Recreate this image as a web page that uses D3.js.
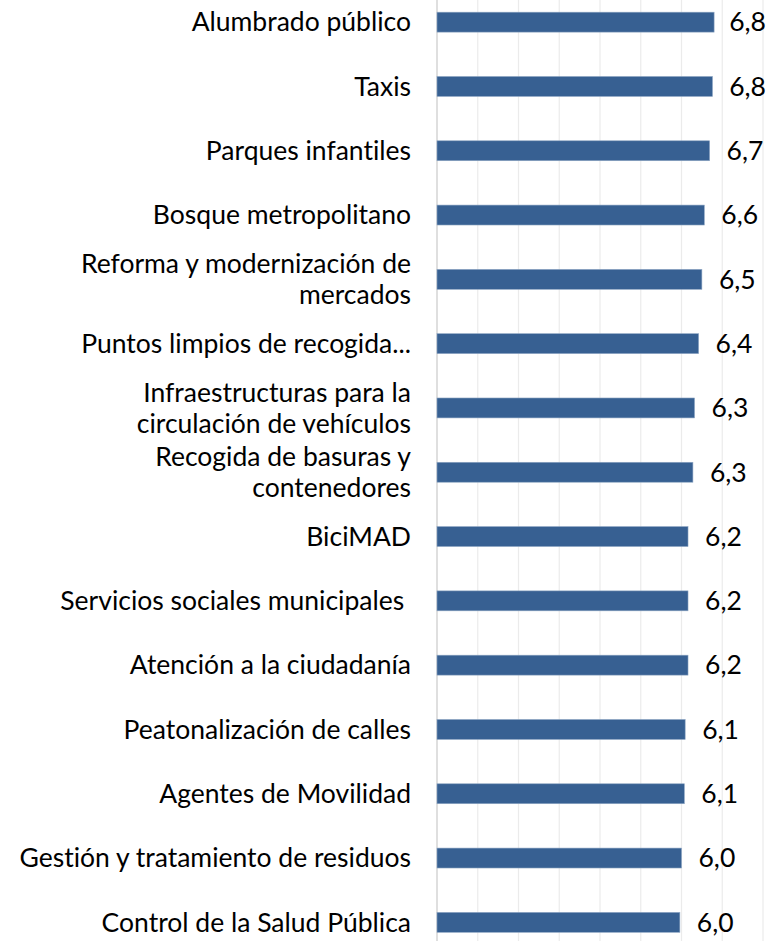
<!DOCTYPE html>
<html>
<head>
<meta charset="utf-8">
<script src="https://cdn.jsdelivr.net/npm/d3@7"></script>
<style>
  body { margin: 0; background: white; }
  text { font-family: Lato, "Open Sans", sans-serif; font-variant-ligatures: none; }
</style>
</head>
<body>
<script>
// data
const categories = [
    'Alumbrado público',
    'Taxis',
    'Parques infantiles',
    'Bosque metropolitano',
    'Reforma y modernización de\nmercados',
    'Puntos limpios de recogida...',
    'Infraestructuras para la\ncirculación de vehículos',
    'Recogida de basuras y\ncontenedores',
    'BiciMAD',
    'Servicios sociales municipales ',
    'Atención a la ciudadanía',
    'Peatonalización de calles',
    'Agentes de Movilidad',
    'Gestión y tratamiento de residuos',
    'Control de la Salud Pública'
]
const values = [6.80, 6.76, 6.69, 6.56, 6.50, 6.42, 6.32, 6.28, 6.16, 6.16, 6.16, 6.09, 6.07, 6.00, 5.96]
const xTicks = [0, 1, 2, 3, 4, 5, 6, 7, 8]

const width = 770
const height = 941
const chart = {left: 437, right: 763, top: -10, bottom: 954.5}
const fontSize = 26.5

const data = categories.map((c, i) => ({cat: c, value: values[i]}))

const svg = d3.select('body')
    .append('svg')
    .attr('width', width)
    .attr('height', height)

const x = d3.scaleLinear()
    .domain([0, 8])
    .range([chart.left, chart.right])

const y = d3.scaleBand()
    .domain(categories)
    .range([chart.top, chart.bottom])
    .paddingInner(0.69)
    .paddingOuter(0.345)

// vertical gridlines
svg.append('g')
    .selectAll('line')
    .data(xTicks)
    .join('line')
    .attr('x1', d => x(d))
    .attr('x2', d => x(d))
    .attr('y1', 0)
    .attr('y2', height)
    .attr('stroke', d => d === 0 ? '#d4d4d4' : '#ebebeb')
    .attr('stroke-width', d => d === 0 ? 1.5 : 1.2)

// bars
svg.append('g')
    .selectAll('rect')
    .data(data)
    .join('rect')
    .attr('x', x(0))
    .attr('y', d => y(d.cat))
    .attr('width', d => x(d.value) - x(0))
    .attr('height', y.bandwidth())
    .attr('fill', '#376092')
    .attr('stroke', '#8ea6c4')
    .attr('stroke-width', 0.6)

// category labels
const lineH = 31
const catGroups = svg.append('g')
    .selectAll('text')
    .data(data)
    .join('text')
    .attr('text-anchor', 'end')
    .attr('font-size', fontSize)
    .attr('fill', '#000')
    .style('white-space', 'pre')

catGroups.each(function(d){
    const lines = d.cat.split('\n')
    const cy = y(d.cat) + y.bandwidth() / 2
    const first = cy - (lines.length - 1) * lineH / 2
    d3.select(this).selectAll('tspan')
        .data(lines)
        .join('tspan')
        .attr('x', 411)
        .attr('y', (l, i) => first + i * lineH)
        .attr('dy', '0.35em')
        .text(l => l)
})

// value labels, kept inside the right edge like the original
const fmt = v => d3.format('.1f')(v).replace('.', ',')
svg.append('g')
    .selectAll('text')
    .data(data)
    .join('text')
    .attr('font-size', fontSize)
    .attr('fill', '#000')
    .attr('y', d => y(d.cat) + y.bandwidth() / 2)
    .attr('dy', '0.35em')
    .text(d => fmt(d.value))
    .attr('x', function(d){
        const w = this.getComputedTextLength()
        return Math.min(x(d.value) + 17, 766 - w)
    })
</script>
</body>
</html>
